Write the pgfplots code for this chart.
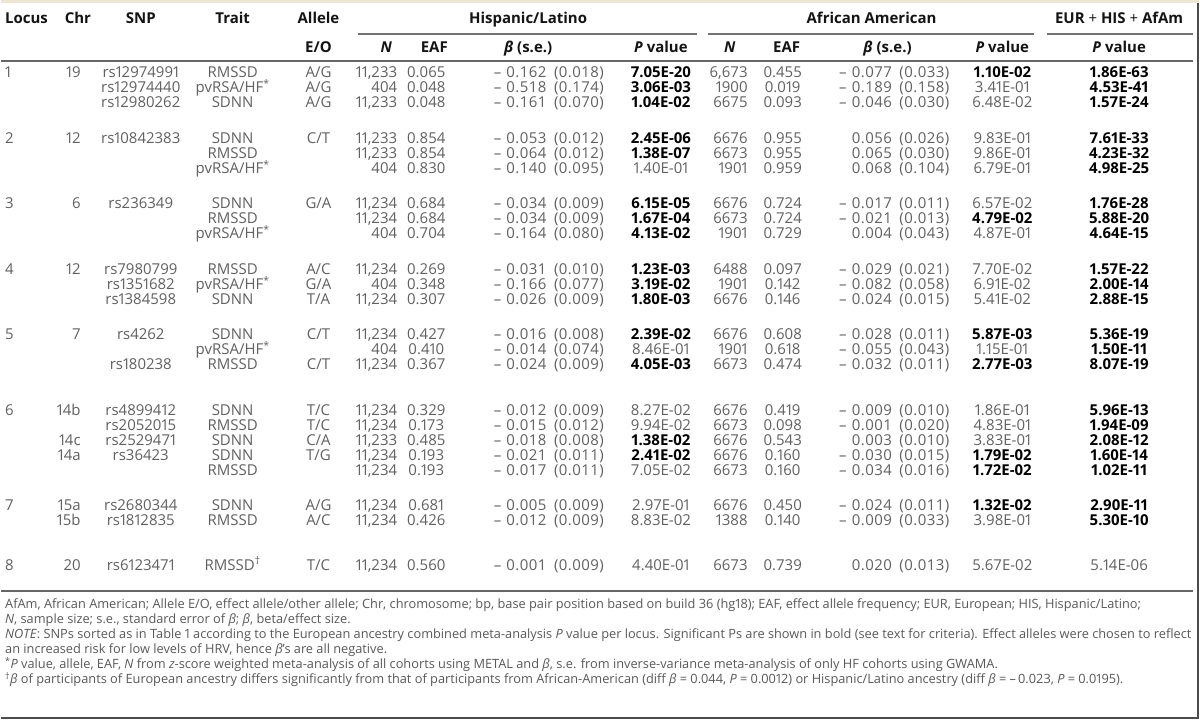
\documentclass[border=0pt]{standalone}
\usepackage{pgfplots}
\pgfplotsset{compat=1.18}
\usepackage{fontspec}
\setmainfont{Open Sans}[Numbers=Proportional]
\newfontfamily\bfont{Open Sans}[Numbers=Monospaced, LetterSpace=3]
\definecolor{beige}{RGB}{238,229,210}
\newcommand\dat{\fontsize{15}{17}\selectfont}
\newcommand\fnt{\fontsize{12.8}{15}\selectfont}
\newcommand\B[1]{\textcolor{black}{\textbf{#1}}}
\newcommand\m{\textendash\hspace{0.35em}}
\newcommand\p{\hspace{0.5em}}
\newcommand\hf{pvRSA/HF\textsuperscript{*}}
\tikzset{
 dc/.style={font=\dat, text=black!62, inner sep=0pt, anchor=base},
 dl/.style={dc, anchor=base west},
 dr/.style={dc, anchor=base east},
 hc/.style={font=\dat\bfseries, text=black!92, inner sep=0pt, anchor=base},
 hl/.style={hc, anchor=base west},
 fn/.style={font=\fnt, text=black!65, inner sep=0pt, anchor=base west},
}
% row part A: y, locus, chr, snp, trait, allele, HIS N, HIS EAF, HIS beta
\newcommand\RA[9]{%
 \node[dl] at (axis cs:4,#1) {#2};
 \node[dr] at (axis cs:80,#1) {#3};
 \node[dc] at (axis cs:140,#1) {#4};
 \node[dc] at (axis cs:232,#1) {#5};
 \node[dc] at (axis cs:318,#1) {#6};
 \node[dr] at (axis cs:397,#1) {#7};
 \node[dc] at (axis cs:426,#1) {#8};
 \node[dr] at (axis cs:604,#1) {\bfont #9};
}
% row part B: y, HIS P, AfAm N, AfAm EAF, AfAm beta, AfAm P, combined P
\newcommand\RB[7]{%
 \node[dc] at (axis cs:661,#1) {#2};
 \node[dr] at (axis cs:748,#1) {#3};
 \node[dc] at (axis cs:783,#1) {#4};
 \node[dr] at (axis cs:950,#1) {\bfont #5};
 \node[dc] at (axis cs:1003,#1) {#6};
 \node[dc] at (axis cs:1120,#1) {#7};
}
\begin{document}
\begin{tikzpicture}
\begin{axis}[
 width=1200pt, height=720pt, scale only axis,
 xmin=0, xmax=1200, ymin=0, ymax=720, y dir=reverse,
 hide axis, clip=false,
]
\addplot[draw=none] coordinates {(0,0) (1200,720)};
\fill[white] (axis cs:0,0) rectangle (axis cs:1200,720);
\fill[beige] (axis cs:0,0) rectangle (axis cs:1200,3.5);
\draw[black!70, line width=2pt] (axis cs:1199,3) -- (axis cs:1199,720);
\draw[black!70, line width=2pt] (axis cs:0,719) -- (axis cs:1200,719);
% header
\node[hl] at (axis cs:4,24) {Locus};
\node[hc] at (axis cs:77,24) {Chr};
\node[hc] at (axis cs:140,24) {SNP};
\node[hc] at (axis cs:232,24) {Trait};
\node[hc] at (axis cs:318,24) {Allele};
\node[hc] at (axis cs:528,24) {Hispanic/Latino};
\node[hc] at (axis cs:872,24) {African American};
\node[hc] at (axis cs:1120,24) {EUR {\mdseries+} HIS {\mdseries+} AfAm};
\draw[black!55, line width=1.4pt] (axis cs:358,34) -- (axis cs:697,34);
\draw[black!55, line width=1.4pt] (axis cs:708,34) -- (axis cs:1035,34);
\draw[black!55, line width=1.4pt] (axis cs:1048,34) -- (axis cs:1194,34);
\node[hc] at (axis cs:318,53) {E/O};
\node[hc] at (axis cs:386,53) {\textit{N}};
\node[hc] at (axis cs:434,53) {EAF};
\node[hc] at (axis cs:528,53) {\textit{β} (s.e.)};
\node[hc] at (axis cs:661,53) {\textit{P} value};
\node[hc] at (axis cs:730,53) {\textit{N}};
\node[hc] at (axis cs:787,53) {EAF};
\node[hc] at (axis cs:888,53) {\textit{β} (s.e.)};
\node[hc] at (axis cs:1003,53) {\textit{P} value};
\node[hc] at (axis cs:1120,53) {\textit{P} value};
\draw[black!60, line width=2pt] (axis cs:0,61) -- (axis cs:1194,61);
% locus 1
\RA{78}{1}{19}{rs12974991}{RMSSD}{A/G}{11,233}{0.065}{\m0.162\p(0.018)}
\RB{78}{\B{7.05E-20}}{6,673}{0.455}{\m0.077\p(0.033)}{\B{1.10E-02}}{\B{1.86E-63}}
\RA{93}{}{}{rs12974440}{\hf}{A/G}{404}{0.048}{\m0.518\p(0.174)}
\RB{93}{\B{3.06E-03}}{1900}{0.019}{\m0.189\p(0.158)}{3.41E-01}{\B{4.53E-41}}
\RA{108}{}{}{rs12980262}{SDNN}{A/G}{11,233}{0.048}{\m0.161\p(0.070)}
\RB{108}{\B{1.04E-02}}{6675}{0.093}{\m0.046\p(0.030)}{6.48E-02}{\B{1.57E-24}}
% locus 2
\RA{144}{2}{12}{rs10842383}{SDNN}{C/T}{11,233}{0.854}{\m0.053\p(0.012)}
\RB{144}{\B{2.45E-06}}{6676}{0.955}{0.056\p(0.026)}{9.83E-01}{\B{7.61E-33}}
\RA{159}{}{}{}{RMSSD}{}{11,233}{0.854}{\m0.064\p(0.012)}
\RB{159}{\B{1.38E-07}}{6673}{0.955}{0.065\p(0.030)}{9.86E-01}{\B{4.23E-32}}
\RA{174}{}{}{}{\hf}{}{404}{0.830}{\m0.140\p(0.095)}
\RB{174}{1.40E-01}{1901}{0.959}{0.068\p(0.104)}{6.79E-01}{\B{4.98E-25}}
% locus 3
\RA{209}{3}{6}{rs236349}{SDNN}{G/A}{11,234}{0.684}{\m0.034\p(0.009)}
\RB{209}{\B{6.15E-05}}{6676}{0.724}{\m0.017\p(0.011)}{6.57E-02}{\B{1.76E-28}}
\RA{224}{}{}{}{RMSSD}{}{11,234}{0.684}{\m0.034\p(0.009)}
\RB{224}{\B{1.67E-04}}{6673}{0.724}{\m0.021\p(0.013)}{\B{4.79E-02}}{\B{5.88E-20}}
\RA{239}{}{}{}{\hf}{}{404}{0.704}{\m0.164\p(0.080)}
\RB{239}{\B{4.13E-02}}{1901}{0.729}{0.004\p(0.043)}{4.87E-01}{\B{4.64E-15}}
% locus 4
\RA{275}{4}{12}{rs7980799}{RMSSD}{A/C}{11,234}{0.269}{\m0.031\p(0.010)}
\RB{275}{\B{1.23E-03}}{6488}{0.097}{\m0.029\p(0.021)}{7.70E-02}{\B{1.57E-22}}
\RA{290}{}{}{rs1351682}{\hf}{G/A}{404}{0.348}{\m0.166\p(0.077)}
\RB{290}{\B{3.19E-02}}{1901}{0.142}{\m0.082\p(0.058)}{6.91E-02}{\B{2.00E-14}}
\RA{305}{}{}{rs1384598}{SDNN}{T/A}{11,234}{0.307}{\m0.026\p(0.009)}
\RB{305}{\B{1.80E-03}}{6676}{0.146}{\m0.024\p(0.015)}{5.41E-02}{\B{2.88E-15}}
% locus 5
\RA{340}{5}{7}{rs4262}{SDNN}{C/T}{11,234}{0.427}{\m0.016\p(0.008)}
\RB{340}{\B{2.39E-02}}{6676}{0.608}{\m0.028\p(0.011)}{\B{5.87E-03}}{\B{5.36E-19}}
\RA{355}{}{}{}{\hf}{}{404}{0.410}{\m0.014\p(0.074)}
\RB{355}{8.46E-01}{1901}{0.618}{\m0.055\p(0.043)}{1.15E-01}{\B{1.50E-11}}
\RA{370}{}{}{rs180238}{RMSSD}{C/T}{11,234}{0.367}{\m0.024\p(0.009)}
\RB{370}{\B{4.05E-03}}{6673}{0.474}{\m0.032\p(0.011)}{\B{2.77E-03}}{\B{8.07E-19}}
% locus 6
\RA{416}{6}{14b}{rs4899412}{SDNN}{T/C}{11,234}{0.329}{\m0.012\p(0.009)}
\RB{416}{8.27E-02}{6676}{0.419}{\m0.009\p(0.010)}{1.86E-01}{\B{5.96E-13}}
\RA{431}{}{}{rs2052015}{RMSSD}{T/C}{11,234}{0.173}{\m0.015\p(0.012)}
\RB{431}{9.94E-02}{6673}{0.098}{\m0.001\p(0.020)}{4.83E-01}{\B{1.94E-09}}
\RA{446}{}{14c}{rs2529471}{SDNN}{C/A}{11,233}{0.485}{\m0.018\p(0.008)}
\RB{446}{\B{1.38E-02}}{6676}{0.543}{0.003\p(0.010)}{3.83E-01}{\B{2.08E-12}}
\RA{461}{}{14a}{rs36423}{SDNN}{T/G}{11,234}{0.193}{\m0.021\p(0.011)}
\RB{461}{\B{2.41E-02}}{6676}{0.160}{\m0.030\p(0.015)}{\B{1.79E-02}}{\B{1.60E-14}}
\RA{476}{}{}{}{RMSSD}{}{11,234}{0.193}{\m0.017\p(0.011)}
\RB{476}{7.05E-02}{6673}{0.160}{\m0.034\p(0.016)}{\B{1.72E-02}}{\B{1.02E-11}}
% locus 7
\RA{511}{7}{15a}{rs2680344}{SDNN}{A/G}{11,234}{0.681}{\m0.005\p(0.009)}
\RB{511}{2.97E-01}{6676}{0.450}{\m0.024\p(0.011)}{\B{1.32E-02}}{\B{2.90E-11}}
\RA{526}{}{15b}{rs1812835}{RMSSD}{A/C}{11,234}{0.426}{\m0.012\p(0.009)}
\RB{526}{8.83E-02}{1388}{0.140}{\m0.009\p(0.033)}{3.98E-01}{\B{5.30E-10}}
% locus 8
\RA{571}{8}{20}{rs6123471}{RMSSD\textsuperscript{†}}{T/C}{11,234}{0.560}{\m0.001\p(0.009)}
\RB{571}{4.40E-01}{6673}{0.739}{0.020\p(0.013)}{5.67E-02}{5.14E-06}
\draw[black!60, line width=2pt] (axis cs:0,592) -- (axis cs:1194,592);
% footnotes
\node[fn] at (axis cs:4,610) {AfAm, African American; Allele E/O, effect allele/other allele; Chr, chromosome; bp, base pair position based on build 36 (hg18); EAF, effect allele frequency; EUR, European; HIS, Hispanic/Latino;};
\node[fn] at (axis cs:4,625) {\textit{N}, sample size; s.e., standard error of \textit{β}; \textit{β}, beta/effect size.};
\node[fn] at (axis cs:4,640) {\textit{NOTE}: SNPs sorted as in Table 1 according to the European ancestry combined meta-analysis \textit{P} value per locus. Significant Ps are shown in bold (see text for criteria). Effect alleles were chosen to reflect};
\node[fn] at (axis cs:4,655) {an increased risk for low levels of HRV, hence \textit{β}'s are all negative.};
\node[fn] at (axis cs:4,670) {\textsuperscript{*}\textit{P} value, allele, EAF, \textit{N} from \textit{z}-score weighted meta-analysis of all cohorts using METAL and \textit{β}, s.e. from inverse-variance meta-analysis of only HF cohorts using GWAMA.};
\node[fn] at (axis cs:4,685) {\textsuperscript{†}\textit{β} of participants of European ancestry differs significantly from that of participants from African-American (diff \textit{β} = 0.044, \textit{P} = 0.0012) or Hispanic/Latino ancestry (diff \textit{β} = \textendash\,0.023, \textit{P} = 0.0195).};
\end{axis}
\end{tikzpicture}
\end{document}
